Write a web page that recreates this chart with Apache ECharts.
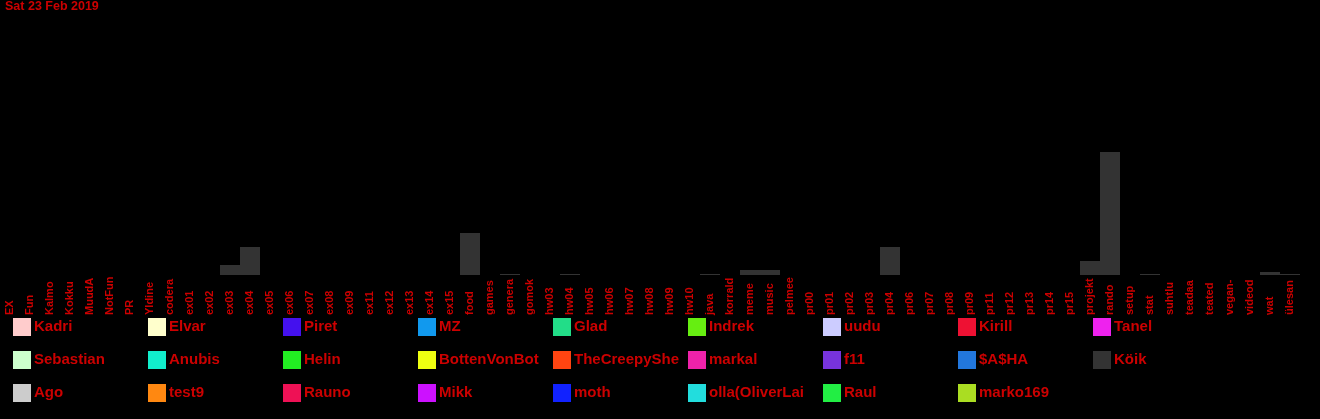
<!DOCTYPE html><html><head><meta charset="utf-8"><script src="https://cdn.jsdelivr.net/npm/echarts@6/dist/echarts.min.js"></script>
<style>body{margin:0;background:#000}#c{width:1320px;height:419px}</style></head><body><div id="c"></div><script>
const categories=["EX","Fun","Kalmo","Kokku","MuudAi","NotFun","PR","Yldine","codera","ex01","ex02","ex03","ex04","ex05","ex06","ex07","ex08","ex09","ex11","ex12","ex13","ex14","ex15","food","games","general","gomoku","hw03","hw04","hw05","hw06","hw07","hw08","hw09","hw10","java","korraldus","meme","music","pelmeen","pr00","pr01","pr02","pr03","pr04","pr06","pr07","pr08","pr09","pr11","pr12","pr13","pr14","pr15","projekt","random","setup","stat","suhtlus","teadaanded","teated","vegan-tegelased","videod","wat","ülesanded"];
const koikValues={ex03:10,ex04:28,food:42,general:1,hw04:1,java:1,meme:5,music:5,pr04:28,projekt:14,random:123,stat:1,wat:3,"ülesanded":1};
const legendRows=[["Kadri","Elvar","Piret","MZ","Glad","Indrek","uudu","Kirill","Tanel"],["Sebastian","Anubis","Helin","BottenVonBot","TheCreepySheep","markal","f11","$A$HA","Köik"],["Ago","test9","Rauno","Mikk","moth","olla(OliverLaidma)","Raul","marko169"]];
const legendColors=[["#ffcccc","#ffffcc","#4411ee","#1199ee","#22dd88","#66ee11","#ccccff","#ee1133","#ee22ee"],["#ccffcc","#11eecc","#22ee22","#eeff11","#ff4411","#ee22aa","#7733dd","#2277dd","#333333"],["#cccccc","#ff8811","#ee1155","#cc11ff","#1122ff","#22dddd","#22ee44","#aadd22"]];
const series=[],legends=[];
legendRows.forEach((r,i)=>r.forEach((n,j)=>{series.push({name:n,type:'bar',stack:'s',barCategoryGap:0,itemStyle:{color:legendColors[i][j]},
 data:categories.map(c=>n==='Köik'?(koikValues[c]||0):0)});
 legends.push({data:[n],left:13+j*135,top:318+i*33,itemWidth:18,itemHeight:18,itemGap:0,icon:'rect',selectedMode:false,padding:0,
 textStyle:{color:'#cc0000',fontWeight:'bold',fontSize:15,fontFamily:'Liberation Sans',width:112,overflow:'truncate',ellipsis:'',padding:[-8,0,0,-2]}});}));
echarts.init(document.getElementById('c')).setOption({backgroundColor:'#000',animation:false,
title:{text:'Sat 23 Feb 2019',left:5,top:0,padding:0,textStyle:{color:'#cc0000',fontSize:12.5,fontWeight:'bold',fontFamily:'Liberation Sans'}},
legend:legends,grid:{left:0,right:20,top:10,bottom:144},
xAxis:{type:'category',data:categories,axisLine:{show:false},axisTick:{show:false},
 axisLabel:{interval:0,rotate:90,align:'left',color:'#cc0000',fontSize:11,fontWeight:'bold',fontFamily:'Liberation Sans',margin:40,width:40,overflow:'truncate',ellipsis:''}},
yAxis:{type:'value',min:0,max:265,show:false,splitLine:{show:false}},series});
</script></body></html>
